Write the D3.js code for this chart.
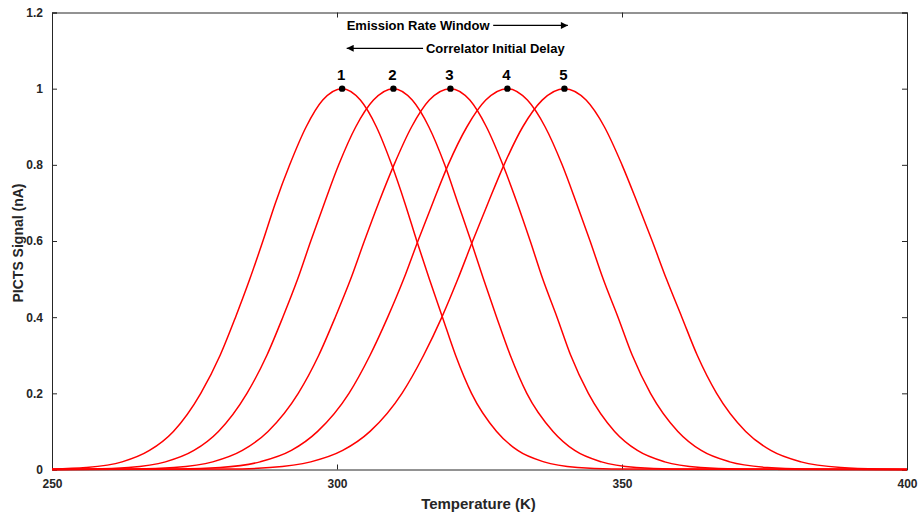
<!DOCTYPE html>
<html>
<head>
<meta charset="utf-8">
<script src="https://cdn.jsdelivr.net/npm/d3@7"></script>
<style>
  html, body { margin: 0; padding: 0; background: #ffffff; }
  svg { display: block; }
  text { font-family: "Liberation Sans", Arial, sans-serif; }
</style>
</head>
<body>
<svg id="chart" width="924" height="517"></svg>
<script>
// ---------- data ----------
const xTicks = [250, 300, 350, 400];
const xTickLabels = ["250", "300", "350", "400"];
const yTicks = [0, 0.2, 0.4, 0.6, 0.8, 1, 1.2];
const yTickLabels = ["0", "0.2", "0.4", "0.6", "0.8", "1", "1.2"];

// [temperature (K), PICTS signal (nA)]
const curve1 = [[250,0.0011],[256.0,0.005],[262.3,0.02],[267.1,0.05],[271.3,0.1],[276.1,0.2],[279.5,0.3],[282.2,0.4],[284.7,0.5],[287.0,0.6],[289.2,0.7],[291.7,0.8],[294.6,0.9],[297.5,0.97],[300.9,1],[304.1,0.97],[306.9,0.9],[309.6,0.8],[311.9,0.7],[314.0,0.6],[316.2,0.5],[318.5,0.4],[320.8,0.3],[323.6,0.2],[328.0,0.1],[331.7,0.05],[336.3,0.02],[342.2,0.005],[348.2,0.001],[400,0]];
const curve2 = [[250,0.0002],[256.7,0.001],[263.4,0.005],[269.9,0.02],[274.9,0.05],[279.2,0.1],[284.2,0.2],[287.7,0.3],[290.5,0.4],[293.1,0.5],[295.4,0.6],[297.8,0.7],[300.3,0.8],[303.3,0.9],[306.4,0.97],[309.9,1],[313.2,0.97],[316.1,0.9],[318.9,0.8],[321.2,0.7],[323.5,0.6],[325.7,0.5],[328.0,0.4],[330.4,0.3],[333.3,0.2],[337.9,0.1],[341.7,0.05],[346.4,0.02],[352.5,0.005],[358.7,0.001],[400,0]];
const curve3 = [[250,0],[264.5,0.001],[271.4,0.005],[278.2,0.02],[283.4,0.05],[287.9,0.1],[293.2,0.2],[296.8,0.3],[299.7,0.4],[302.4,0.5],[304.8,0.6],[307.3,0.7],[310.0,0.8],[313.1,0.9],[316.2,0.97],[319.9,1],[323.3,0.97],[326.2,0.9],[329.1,0.8],[331.6,0.7],[333.9,0.6],[336.1,0.5],[338.6,0.4],[341.0,0.3],[344.1,0.2],[348.7,0.1],[352.7,0.05],[357.5,0.02],[363.8,0.005],[370.2,0.001],[400,0]];
const curve4 = [[250,0],[272.3,0.001],[279.5,0.005],[286.5,0.02],[292.0,0.05],[296.6,0.1],[302.1,0.2],[305.8,0.3],[308.9,0.4],[311.7,0.5],[314.2,0.6],[316.8,0.7],[319.5,0.8],[322.8,0.9],[326.1,0.97],[329.9,1],[333.4,0.97],[336.5,0.9],[339.5,0.8],[342.0,0.7],[344.4,0.6],[346.7,0.5],[349.3,0.4],[351.8,0.3],[355.0,0.2],[359.8,0.1],[363.9,0.05],[368.9,0.02],[375.5,0.005],[382.1,0.001],[400,0]];
const curve5 = [[250,0],[280.8,0.001],[288.2,0.005],[295.4,0.02],[301.0,0.05],[305.8,0.1],[311.4,0.2],[315.2,0.3],[318.4,0.4],[321.2,0.5],[323.8,0.6],[326.5,0.7],[329.3,0.8],[332.6,0.9],[336.0,0.97],[339.9,1],[343.7,0.97],[346.9,0.9],[350.0,0.8],[352.7,0.7],[355.3,0.6],[357.8,0.5],[360.5,0.4],[363.2,0.3],[366.6,0.2],[371.7,0.1],[376.1,0.05],[381.4,0.02],[388.4,0.005],[395.4,0.001],[400,0.0004]];

const peakTemps = [300.9, 309.9, 319.9, 329.9, 339.9];
const peakValues = [1, 1, 1, 1, 1];
const peakLabels = ["1", "2", "3", "4", "5"];

// annotation texts and arrow endpoints in data units
const annoTexts = ["Emission Rate Window", "Correlator Initial Delay"];
const annoTextX = [301.7, 315.6];
const annoTextY = [1.166, 1.106];
const arrowFromX = [327.4, 315.1];
const arrowToX = [340.5, 301.7];

const xLabel = "Temperature (K)";
const yLabel = "PICTS Signal (nA)";

// ---------- layout ----------
const W = 924, H = 517;
const m = { left: 52, right: 17, top: 12.5, bottom: 47.5 };
const pw = W - m.left - m.right, ph = H - m.top - m.bottom;

const svg = d3.select("#chart");
svg.append("rect").attr("width", W).attr("height", H).attr("fill", "#fff");

const x = d3.scaleLinear().domain([250, 400]).range([0, pw]);
const y = d3.scaleLinear().domain([0, 1.2]).range([ph, 0]);

const g = svg.append("g").attr("transform", `translate(${m.left},${m.top})`);

const axisColor = "#262626";
const tickFont = 12;

// bottom axis
const xb = g.append("g").attr("transform", `translate(0,${ph})`)
  .call(d3.axisBottom(x).tickValues(xTicks).tickFormat((d, i) => xTickLabels[i]).tickSize(-5).tickPadding(10));
// top axis (ticks only)
const xt = g.append("g")
  .call(d3.axisTop(x).tickValues(xTicks).tickFormat("").tickSize(-5));
// left axis
const yl = g.append("g")
  .call(d3.axisLeft(y).tickValues(yTicks).tickFormat((d, i) => yTickLabels[i]).tickSize(-5).tickPadding(9));
// right axis (ticks only)
const yr = g.append("g").attr("transform", `translate(${pw},0)`)
  .call(d3.axisRight(y).tickValues(yTicks).tickFormat("").tickSize(-5));

[xb, xt, yl, yr].forEach(a => {
  a.selectAll(".domain").attr("stroke", axisColor).attr("stroke-width", 1);
  a.selectAll(".tick line").attr("stroke", axisColor).attr("stroke-width", 1);
  a.selectAll(".tick text")
    .attr("fill", axisColor)
    .style("font-size", tickFont + "px")
    .style("font-weight", "bold")
    .style("font-family", "'Liberation Sans', Arial, sans-serif");
});

// axis titles
g.append("text")
  .attr("x", pw / 2 - 1).attr("y", ph + 39)
  .attr("text-anchor", "middle")
  .attr("fill", axisColor)
  .style("font-size", "15px").style("font-weight", "bold")
  .text(xLabel);
g.append("text")
  .attr("transform", `translate(${-29},${ph / 2 + 2}) rotate(-90)`)
  .attr("text-anchor", "middle")
  .attr("fill", axisColor)
  .style("font-size", "14px").style("font-weight", "bold")
  .text(yLabel);

// clip
svg.append("defs").append("clipPath").attr("id", "clip")
  .append("rect").attr("x", 0).attr("y", -2).attr("width", pw).attr("height", ph + 4);

const line = d3.line()
  .x(d => x(d[0]))
  .y(d => y(d[1]))
  .curve(d3.curveMonotoneX);

const curves = [curve1, curve2, curve3, curve4, curve5];
g.append("g").attr("clip-path", "url(#clip)")
  .selectAll("path").data(curves).join("path")
  .attr("d", line)
  .attr("fill", "none")
  .attr("stroke", "#ff0000")
  .attr("stroke-width", 1.5);

// peak markers
g.selectAll("circle.peak").data(peakTemps).join("circle")
  .attr("class", "peak")
  .attr("cx", d => x(d))
  .attr("cy", (d, i) => y(peakValues[i]))
  .attr("r", 3.2)
  .attr("fill", "#000");

g.selectAll("text.plabel").data(peakLabels).join("text")
  .attr("class", "plabel")
  .attr("x", (d, i) => x(peakTemps[i]) - 1)
  .attr("y", (d, i) => y(peakValues[i]) - 9)
  .attr("text-anchor", "middle")
  .attr("fill", "#000")
  .style("font-size", "15px").style("font-weight", "bold")
  .text(d => d);

// annotations
const defs = svg.select("defs");
defs.append("marker")
  .attr("id", "arrowhead")
  .attr("viewBox", "0 0 10 10")
  .attr("refX", 10).attr("refY", 5)
  .attr("markerWidth", 10).attr("markerHeight", 7)
  .attr("markerUnits", "userSpaceOnUse")
  .attr("orient", "auto")
  .append("path").attr("d", "M0,0 L10,5 L0,10 Z").attr("fill", "#000");

annoTexts.forEach((t, i) => {
  g.append("text")
    .attr("x", x(annoTextX[i]))
    .attr("y", y(annoTextY[i]))
    .attr("dy", "0.35em")
    .attr("fill", "#000")
    .style("font-size", "13px").style("font-weight", "bold")
    .text(t);
  g.append("line")
    .attr("x1", x(arrowFromX[i])).attr("y1", y(annoTextY[i]))
    .attr("x2", x(arrowToX[i])).attr("y2", y(annoTextY[i]))
    .attr("stroke", "#000").attr("stroke-width", 1.2)
    .attr("marker-end", "url(#arrowhead)");
});
</script>
</body>
</html>
